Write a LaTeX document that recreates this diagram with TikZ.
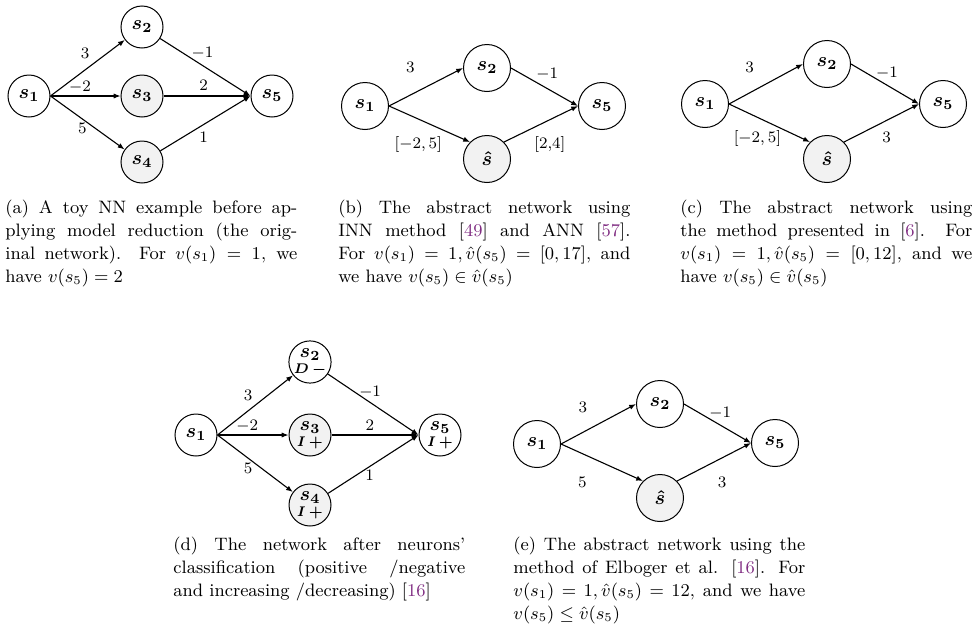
\documentclass[tikz,border=0pt]{standalone}
\usepackage{amsmath,amssymb}
\usepackage{xcolor}
\usepackage{tikz}
\usetikzlibrary{arrows.meta}
\definecolor{ink}{RGB}{0,0,0}
\definecolor{cellgray}{RGB}{242,242,242}
\definecolor{citepurple}{RGB}{128,45,130}
\newcommand{\refnum}[1]{[\textcolor{citepurple}{#1}]}
\newcommand{\nrn}[1]{$\boldsymbol{s_{#1}}$}
\newcommand{\nrnhat}{$\boldsymbol{\hat{s}}$}
\tikzset{
  neuron/.style={circle,draw=ink,line width=0.5pt,minimum size=21pt,inner sep=0pt,align=center},
  wideneuron/.style={neuron,minimum size=23.5pt},
  merged/.style={fill=cellgray},
  wire/.style={line width=0.55pt,ink,-{Latex[length=3.4pt,width=2.6pt]}},
  weight/.style={font=\footnotesize,inner sep=0pt},
  tag/.style={font=\scriptsize},
  caption/.style={anchor=north west,inner sep=0pt,text width=146pt,align=justify,
    font=\fontsize{9}{11.5}\selectfont}
}

\begin{document}
\begin{tikzpicture}[x=0.5pt,y=-0.5pt]
  \useasboundingbox (0,0) rectangle (975,643);
  % (a)
  \node[neuron] (a1) at (29,96) {\nrn{1}};
  \node[neuron] (a2) at (142,27) {\nrn{2}};
  \node[neuron,merged] (a3) at (142,96) {\nrn{3}};
  \node[neuron,merged] (a4) at (142,162) {\nrn{4}};
  \node[neuron] (a5) at (272,96) {\nrn{5}};
  \draw[wire] (a1.east) -- (a2) node[weight,pos=0.465,shift={(0,-17)}] (wa12) {$3$};
  \draw[wire] (a1.east) -- (a3) node[weight,pos=0.42,shift={(0,-9)}] (wa13) {$-2$};
  \draw[wire] (a1.east) -- (a4) node[weight,pos=0.43,shift={(0,9)}] (wa14) {$5$};
  \draw[wire] (a2) -- (a5.west) node[weight,pos=0.47,shift={(0,-12)}] (wa25) {$-1$};
  \draw[wire] (a3) -- (a5.west) node[weight,pos=0.46,shift={(0,-11)}] (wa35) {$2$};
  \draw[wire] (a4) -- (a5.west) node[weight,pos=0.48,shift={(0,13)}] (wa45) {$1$};
  \node[caption] (capa) at (5,200) {(a) A toy NN example before ap-\linebreak
    plying model reduction (the orig-\linebreak
    inal network). For $v(s_1) = 1$, we\linebreak
    have $v(s_5) = 2$};
  % (b)
  \node[wideneuron] (b1) at (365,106) {\nrn{1}};
  \node[wideneuron] (b2) at (487,68) {\nrn{2}};
  \node[wideneuron,merged] (bh) at (487,159) {\nrnhat};
  \node[wideneuron] (b5) at (602,106) {\nrn{5}};
  \draw[wire] (b1.east) -- (b2.west) node[weight,pos=0.29,shift={(0,-28)}] (wb12) {$3$};
  \draw[wire] (b1.east) -- (bh.north west) node[weight,pos=0.36,shift={(0,26)}] (wb1h) {$[-2,5]$};
  \draw[wire] (b2.east) -- (b5.west) node[weight,pos=0.54,shift={(0,-14)}] (wb25) {$-1$};
  \draw[wire] (bh.north east) -- (b5.west) node[weight,pos=0.62,shift={(0,25)}] (wbh5) {$[2{,}4]$};
  \node[caption] (capb) at (338,200) {(b) The abstract network using\linebreak
    INN method \refnum{49} and ANN \refnum{57}.\linebreak
    For $v(s_1) = 1, \hat{v}(s_5) = [0, 17]$, and\linebreak
    we have $v(s_5) \in \hat{v}(s_5)$};
  % (c)
  \node[wideneuron] (c1) at (705,104) {\nrn{1}};
  \node[wideneuron] (c2) at (827,64) {\nrn{2}};
  \node[wideneuron,merged] (ch) at (827,159) {\nrnhat};
  \node[wideneuron] (c5) at (943,104) {\nrn{5}};
  \draw[wire] (c1.east) -- (c2.west) node[weight,pos=0.28,shift={(0,-25)}] (wc12) {$3$};
  \draw[wire] (c1.east) -- (ch.north west) node[weight,pos=0.35,shift={(0,21)}] (wc1h) {$[-2,5]$};
  \draw[wire] (c2.east) -- (c5.west) node[weight,pos=0.53,shift={(0,-12)}] (wc25) {$-1$};
  \draw[wire] (ch.north east) -- (c5.west) node[weight,pos=0.57,shift={(0,17)}] (wch5) {$3$};
  \node[caption] (capc) at (680,200) {(c) The abstract network using\linebreak
    the method presented in \refnum{6}. For\linebreak
    $v(s_1) = 1, \hat{v}(s_5) = [0, 12]$, and we\linebreak
    have $v(s_5) \in \hat{v}(s_5)$};
  % (d)
  \node[neuron] (d1) at (196,435) {\nrn{1}};
  \node[neuron] (d2) at (310,362) {\nrn{2}\\[-4pt]{\scriptsize$\boldsymbol{D\,-}$}};
  \node[neuron,merged] (d3) at (310,435) {\nrn{3}\\[-4pt]{\scriptsize$\boldsymbol{I\,+}$}};
  \node[neuron,merged] (d4) at (310,505) {\nrn{4}\\[-4pt]{\scriptsize$\boldsymbol{I\,+}$}};
  \node[neuron] (d5) at (440,435) {\nrn{5}\\[-4pt]{\scriptsize$\boldsymbol{I\,+}$}};
  \draw[wire] (d1.east) -- (d2) node[weight,pos=0.405,shift={(0,-16)}] (wd12) {$3$};
  \draw[wire] (d1.east) -- (d3) node[weight,pos=0.42,shift={(0,-9)}] (wd13) {$-2$};
  \draw[wire] (d1.east) -- (d4) node[weight,pos=0.405,shift={(0,10)}] (wd14) {$5$};
  \draw[wire] (d2) -- (d5.west) node[weight,pos=0.466,shift={(0,-10)}] (wd25) {$-1$};
  \draw[wire] (d3) -- (d5.west) node[weight,pos=0.44,shift={(0,-10)}] (wd35) {$2$};
  \draw[wire] (d4) -- (d5.west) node[weight,pos=0.46,shift={(0,9)}] (wd45) {$1$};
  \node[caption] (capd) at (173,537) {(d) The network after neurons'\linebreak
    classification (positive /negative\linebreak
    and increasing /decreasing) \refnum{16}};
  % (e)
  \node[wideneuron] (e1) at (537,444) {\nrn{1}};
  \node[wideneuron] (e2) at (660,404) {\nrn{2}};
  \node[wideneuron,merged] (eh) at (660,498) {\nrnhat};
  \node[wideneuron] (e5) at (775,443) {\nrn{5}};
  \draw[wire] (e1.east) -- (e2.west) node[weight,pos=0.29,shift={(0,-25)}] (we12) {$3$};
  \draw[wire] (e1.east) -- (eh.north west) node[weight,pos=0.26,shift={(0,29)}] (we1h) {$5$};
  \draw[wire] (e2.east) -- (e5.west) node[weight,pos=0.54,shift={(0,-12)}] (we25) {$-1$};
  \draw[wire] (eh.north east) -- (e5.west) node[weight,pos=0.61,shift={(0,25)}] (weh5) {$3$};
  \node[caption] (cape) at (513,537) {(e) The abstract network using the\linebreak
    method of Elboger et al. \refnum{16}. For\linebreak
    $v(s_1) = 1, \hat{v}(s_5) = 12$, and we have\linebreak
    $v(s_5) \leq \hat{v}(s_5)$};
\end{tikzpicture}
\end{document}
